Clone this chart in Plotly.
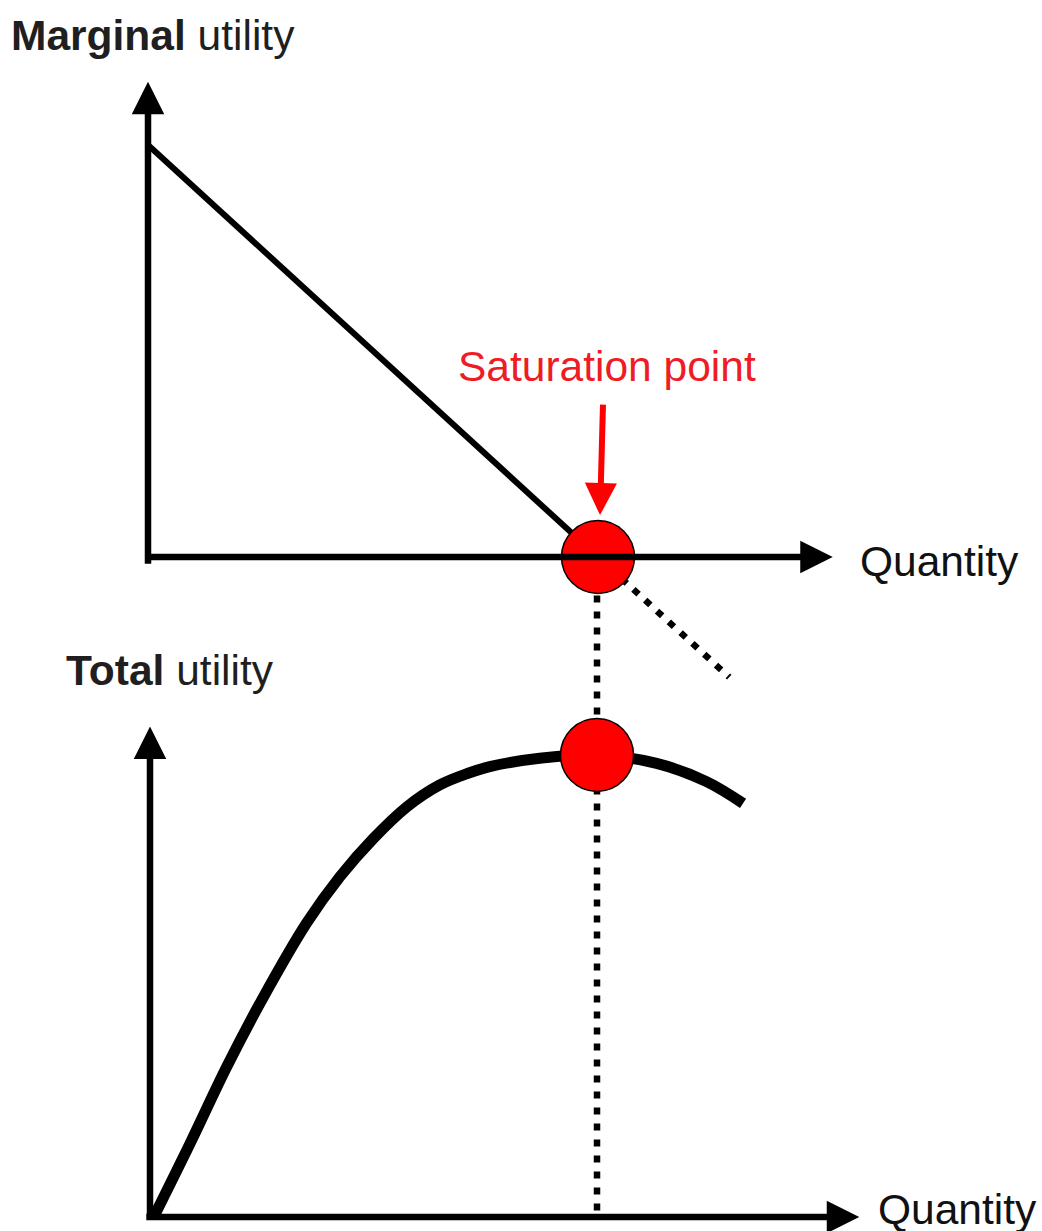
import plotly.graph_objects as go

# marginal utility (top panel), straight line down to the saturation point
quantity_mu = [0, 1, 2, 3, 4, 5, 6]
marginal_utility = [6, 5, 4, 3, 2, 1, 0]
# past saturation it goes negative (dotted)
quantity_mu_beyond = [6, 7.75]
marginal_utility_beyond = [0, -1.75]

# total utility (bottom panel)
quantity_tu = [0.05, 0.54, 1.03, 1.5, 2.1, 2.55, 3.0, 3.45, 3.89, 4.27, 4.56, 5.23, 6.0, 6.8, 7.47, 7.96]
total_utility = [0.0, 3.36, 6.83, 9.86, 13.35, 15.47, 17.21, 18.65, 19.64, 20.17, 20.47, 20.85, 21.0, 20.62, 19.79, 18.8]

saturation_q = 6
saturation_mu = 0
saturation_tu = 21

# axis arrow extents (data units of each panel)
mu_axis_top = 6.92
mu_axis_q_end = 9.13
tu_axis_top = 22.3
tu_axis_q_end = 9.52

FONT = "Liberation Sans, Arial, sans-serif"
TEXT_COL = "#1f1f1f"

fig = go.Figure()

# top panel: marginal utility
fig.add_trace(go.Scatter(x=quantity_mu, y=marginal_utility, mode='lines',
                         line=dict(color='black', width=6), xaxis='x', yaxis='y'))
fig.add_trace(go.Scatter(x=quantity_mu_beyond, y=marginal_utility_beyond, mode='lines',
                         line=dict(color='black', width=6.5, dash='7px,9px'), xaxis='x', yaxis='y'))

# bottom panel: total utility + dotted guide from the saturation point
fig.add_trace(go.Scatter(x=[saturation_q, saturation_q], y=[0.3, 28.4], mode='lines',
                         line=dict(color='black', width=6.5, dash='7px,9px'), xaxis='x2', yaxis='y2'))
fig.add_trace(go.Scatter(x=quantity_tu, y=total_utility, mode='lines',
                         line=dict(color='black', width=11, shape='spline', smoothing=1),
                         xaxis='x2', yaxis='y2'))

# saturation markers
fig.add_trace(go.Scatter(x=[saturation_q], y=[saturation_mu], mode='markers',
                         marker=dict(size=73, color='#ff0000', line=dict(color='black', width=1.5)),
                         xaxis='x', yaxis='y'))
fig.add_trace(go.Scatter(x=[saturation_q], y=[saturation_tu], mode='markers',
                         marker=dict(size=73, color='#ff0000', line=dict(color='black', width=1.5)),
                         xaxis='x2', yaxis='y2'))


def axis_arrow(x, y, ax, ay, xr, yr, color='black', width=6.5, size=1.0):
    fig.add_annotation(x=x, y=y, ax=ax, ay=ay, xref=xr, yref=yr, axref=xr, ayref=yr,
                       text='', showarrow=True, arrowhead=2, arrowsize=size,
                       arrowwidth=width, arrowcolor=color, standoff=0)


# axes with arrowheads
axis_arrow(0, mu_axis_top, 0, -0.12, 'x', 'y')
axis_arrow(mu_axis_q_end, 0, -0.04, 0, 'x', 'y')
axis_arrow(0, tu_axis_top, 0, 0, 'x2', 'y2')
axis_arrow(tu_axis_q_end, 0, -0.07, 0, 'x2', 'y2')

# red pointer to the saturation point
axis_arrow(6.027, 0.61, 6.067, 2.24, 'x', 'y', color='#ff0000', width=6, size=1.07)

# labels
def label(text, x, y, xr, yr, color=TEXT_COL, anchor='left'):
    fig.add_annotation(x=x, y=y, xref=xr, yref=yr, text=text, showarrow=False,
                       xanchor=anchor, yanchor='middle',
                       font=dict(family=FONT, size=42.5, color=color))


label('<b>Marginal</b> utility', -1.86, 7.6, 'x', 'y')
label('Quantity', 9.47, -0.07, 'x', 'y', color='#111111')
label('Saturation point', 6.12, 2.77, 'x', 'y', color='#ee1c25', anchor='center')
label('<b>Total</b> utility', -1.16, 24.86, 'x2', 'y2')
label('Quantity', 9.75, 0.36, 'x2', 'y2', color='#111111')

fig.update_layout(
    width=1042, height=1231,
    margin=dict(l=0, r=0, t=0, b=0),
    plot_bgcolor='rgba(0,0,0,0)', paper_bgcolor='white',
    showlegend=False,
    xaxis=dict(domain=[0, 1], range=[-1.9733, 11.92], visible=False, anchor='y'),
    yaxis=dict(domain=[0, 1], range=[-9.8155, 8.1117], visible=False, anchor='x'),
    xaxis2=dict(domain=[0, 1], range=[-2.0134, 11.973], visible=False, anchor='y2'),
    yaxis2=dict(domain=[0, 1], range=[-0.636, 55.318], visible=False, anchor='x2'),
)

# drop the default page margin so the figure sits at the top-left corner
fig.write_html("out.html", config={'displayModeBar': False},
               post_script="document.body.style.margin='0';")
